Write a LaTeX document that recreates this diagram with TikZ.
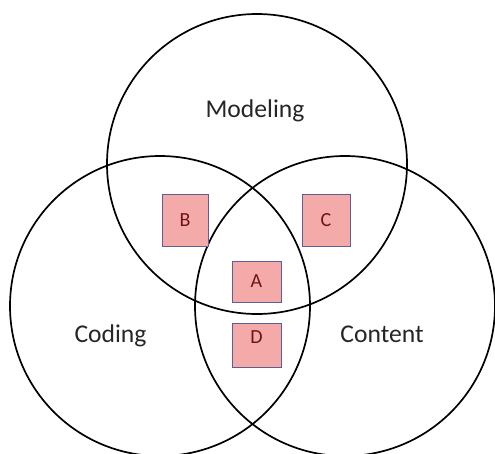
\documentclass[tikz,border=0pt]{standalone}
\usepackage{fontspec}
\setmainfont{Carlito}
\usetikzlibrary{positioning}

\definecolor{boxfill}{HTML}{F5AAAA}
\definecolor{boxline}{HTML}{5E5E94}
\definecolor{boxtext}{HTML}{6E1414}

\tikzset{
  set/.style={circle, draw, line width=1.7pt, minimum size=300pt, inner sep=0pt},
  setlabel/.style={anchor=base, text=black!85, font=\fontsize{25.6}{30}\selectfont},
  region/.style={draw=boxline, fill=boxfill, line width=0.9pt, inner sep=0pt,
      text=boxtext, font=\fontsize{20}{24}\selectfont}
}

\begin{document}
\begin{tikzpicture}[x=1pt, y=-1pt]
      \useasboundingbox (0,0) rectangle (495,453);

      % the three sets
      \node[set] (modeling) at (257,164) {};
      \node[set] (coding) at (160,306) {};
      \node[set] (content) at (345,306) {};

      \node[setlabel] (modelingtxt) at (255,117.5) {Modeling};
      \node[setlabel] (codingtxt) at (110.5,342.5) {Coding};
      \node[setlabel] (contenttxt) at (382,342.5) {Content};

      % overlap regions
      \node[region, minimum width=46pt, minimum height=52pt] (B) at (185,220) {B};
      \node[region, minimum width=48pt, minimum height=52pt] (C) at (326,220) {C};
      \node[region, minimum width=49pt, minimum height=41pt] (A) at (256.5,281.5) {A};
      % D sits high in its box
      \node[region, minimum width=49pt, minimum height=44pt, text height=13pt, text depth=18pt,
          below=21pt of A] (D) {D};
    \end{tikzpicture}
\end{document}
